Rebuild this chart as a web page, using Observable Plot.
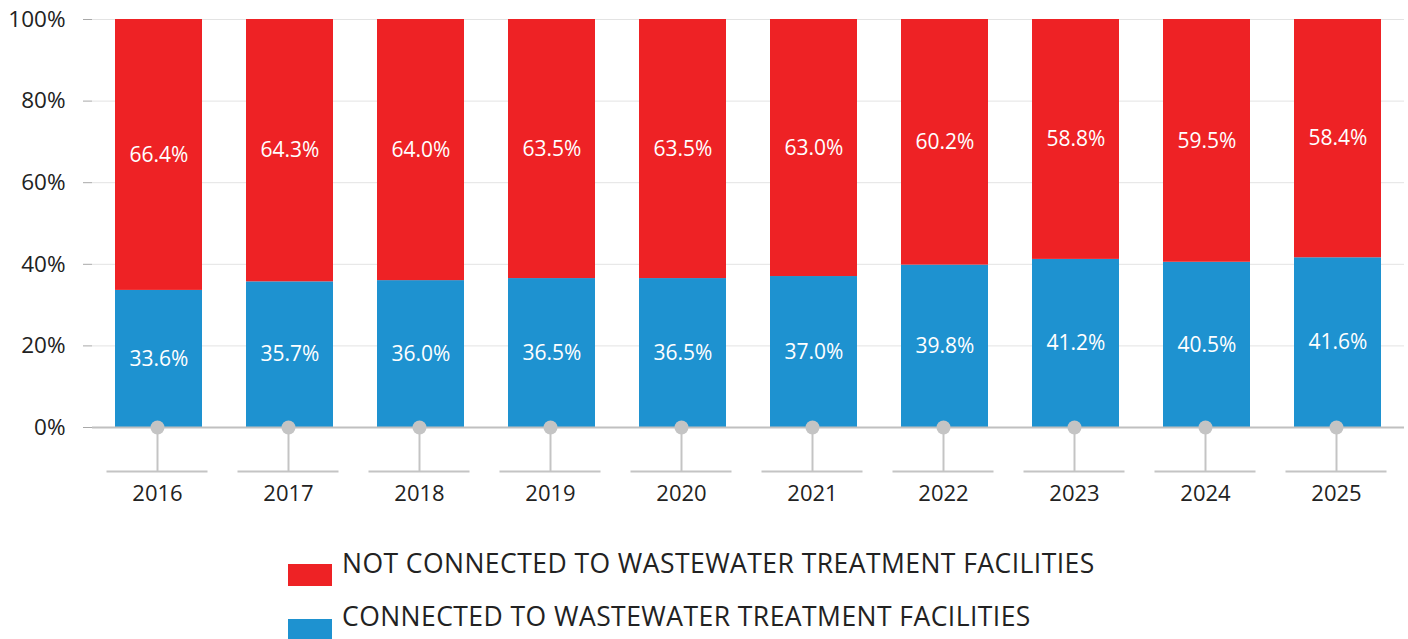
<!DOCTYPE html>
<html><head><meta charset="utf-8">
<script src="https://cdn.jsdelivr.net/npm/d3@7"></script>
<script src="https://cdn.jsdelivr.net/npm/@observablehq/plot@0.6"></script>
<style>
body{margin:0;background:#fff;font-family:"Open Sans","Noto Sans",sans-serif;}
#legend{position:relative;height:110px;}
.lt{position:absolute;left:342px;font-size:26.5px;color:#222;white-space:nowrap;font-weight:400;letter-spacing:0.45px;}
</style></head>
<body>
<div id="chart"></div>
<div id="legend"></div>
<script>
const years = ["2016","2017","2018","2019","2020","2021","2022","2023","2024","2025"];
const connected = [33.6,35.7,36.0,36.5,36.5,37.0,39.8,41.2,40.5,41.6];
const notConnected = [66.4,64.3,64.0,63.5,63.5,63.0,60.2,58.8,59.5,58.4];
const seriesNames = ["CONNECTED TO WASTEWATER TREATMENT FACILITIES","NOT CONNECTED TO WASTEWATER TREATMENT FACILITIES"];
const seriesColors = ["#1E92D0","#EE2225"];
const yTicks = [0,20,40,60,80,100];

const rows = [];
years.forEach((y,i)=>{
  rows.push({year:y, series:seriesNames[0], value:connected[i]});
  rows.push({year:y, series:seriesNames[1], value:notConnected[i]});
});
const labels = [];
years.forEach((y,i)=>{
  labels.push({year:y, mid:connected[i]/2, text:connected[i].toFixed(1)+"%"});
  labels.push({year:y, mid:connected[i]+notConnected[i]/2, text:notConnected[i].toFixed(1)+"%"});
});
const yr = years.map(y=>({year:y}));
const font = '"Open Sans","Noto Sans",sans-serif';

const chart = Plot.plot({
  width:1408, height:530,
  marginTop:19, marginBottom:103, marginLeft:92, marginRight:4,
  style:{fontFamily:font, background:"#fff", overflow:"visible", fontWeight:400},
  x:{domain:years, paddingInner:0.337, paddingOuter:0.16, axis:null},
  y:{domain:[0,100], axis:null},
  color:{domain:seriesNames, range:seriesColors},
  marks:[
    Plot.ruleY(yTicks.filter(d=>d>0), {stroke:"#e3e3e3", strokeWidth:1}),
    Plot.barY(rows, {x:"year", y:"value", fill:"series", order:seriesNames}),
    Plot.text(labels, {x:"year", y:"mid", text:"text", fill:"#fff", fontSize:21}),
    Plot.ruleX([0], {stroke:"#a8a8a8", strokeWidth:1.5, y1:0, y2:100}),
    Plot.axisY({ticks:yTicks, tickFormat:d=>d+"%", tickSize:9, tickPadding:18, stroke:"#a8a8a8", fontSize:22.5, fill:"#222"}),
    Plot.ruleY([0], {stroke:"#c0c0c0", strokeWidth:2}),
    Plot.ruleX(yr, {x:"year", y1:0, y2:-10.8, stroke:"#c4c4c4", strokeWidth:2, dx:-1.5}),
    Plot.tickY(yr, {x:"year", y:-10.8, stroke:"#c4c4c4", strokeWidth:2, insetLeft:-8.5, insetRight:-5.5}),
    Plot.dot(yr, {x:"year", y:0, r:7, fill:"#c4c4c4", dx:-1.5}),
    Plot.text(yr, {x:"year", y:-16.4, text:"year", fill:"#222", fontSize:22, dx:-1.5})
  ]
});
document.getElementById("chart").appendChild(chart);

const leg = document.getElementById("legend");
const legendOrder = [1,0];
legendOrder.forEach((k,i)=>{
  const sw = document.createElement("div");
  sw.style.cssText = `position:absolute;left:288px;top:${564-530+i*55}px;width:44px;height:22px;background:${seriesColors[k]}`;
  leg.appendChild(sw);
  const t = document.createElement("div");
  t.className="lt";
  t.textContent = seriesNames[k];
  t.style.top = `${564-530-19+i*53}px`;
  leg.appendChild(t);
});
</script>
</body></html>
